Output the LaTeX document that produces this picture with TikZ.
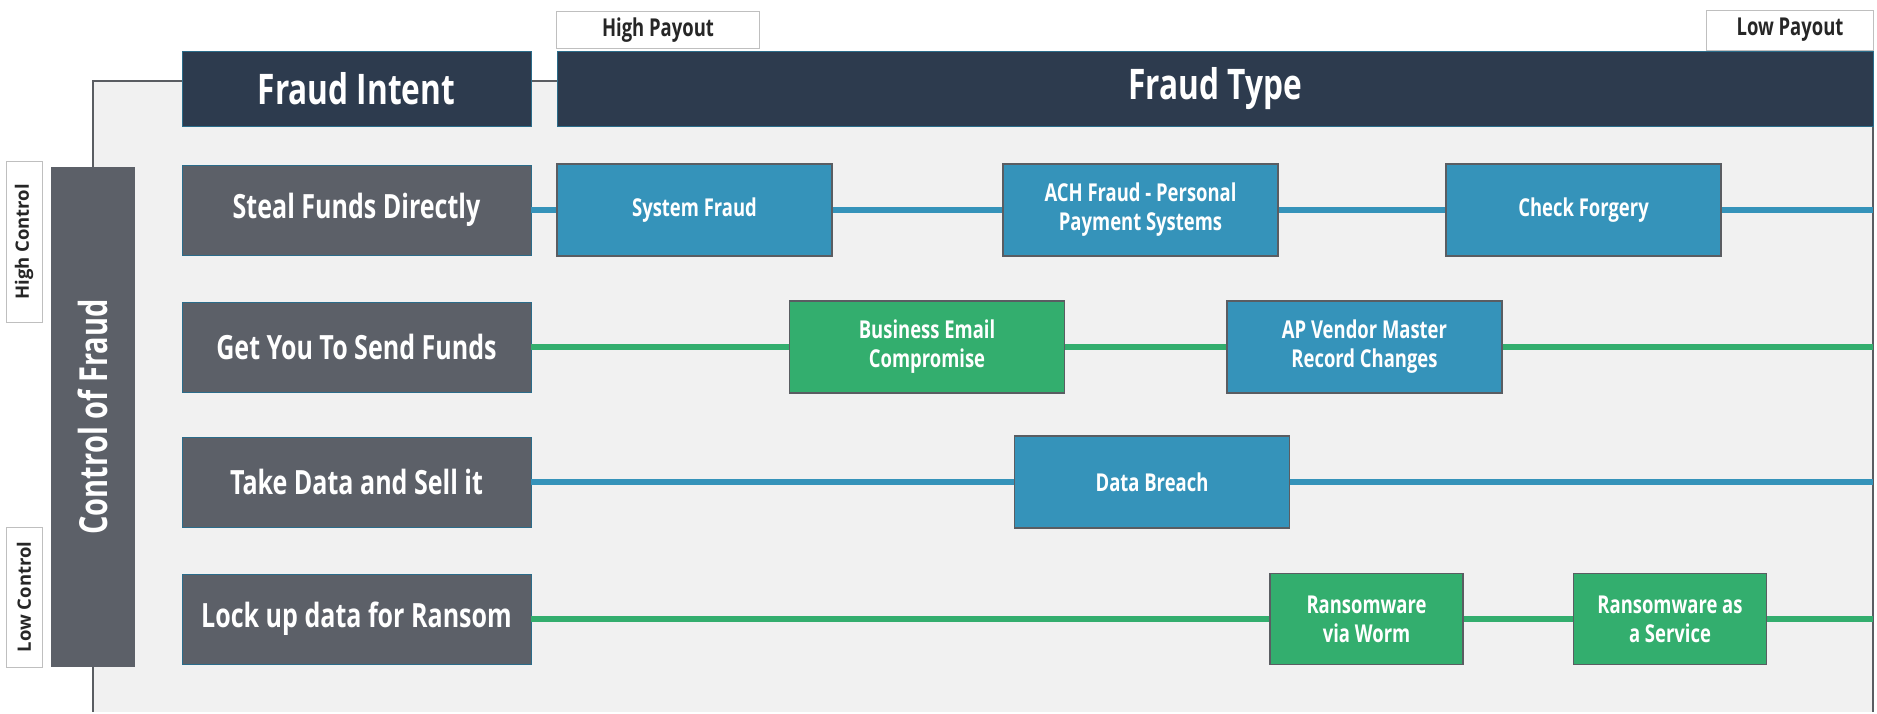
\documentclass[tikz,border=0pt]{standalone}
\usepackage{fontspec}
\setmainfont{Open Sans}[FakeStretch=0.75]
\newfontfamily\plainfont{Open Sans}
\usetikzlibrary{positioning}

\definecolor{navy}{HTML}{2D3B4E}
\definecolor{slate}{HTML}{5C6068}
\definecolor{fraudblue}{HTML}{3593BA}
\definecolor{fraudgreen}{HTML}{33AE6E}
\definecolor{panelgray}{HTML}{F1F1F1}
\definecolor{edgeteal}{HTML}{2B6C8A}
\definecolor{edgegray}{HTML}{5A5D62}

\begin{document}
\begin{tikzpicture}[
    x=0.2mm, y=-0.2mm,
    header/.style={rectangle, minimum height=15mm, draw=edgeteal, fill=navy, text=white, font=\bfseries\fontsize{24}{28}\selectfont},
    intent/.style={rectangle, minimum width=69.8mm, minimum height=18mm, draw=edgeteal, fill=slate, text=white, font=\bfseries\fontsize{19}{22}\selectfont},
    fraud/.style={rectangle, minimum width=55mm, minimum height=18.4mm, draw=edgegray, line width=1pt, fill=#1, text=white, align=center, font=\bfseries\fontsize{14}{16.5}\selectfont},
    tag/.style={rectangle, draw=black!25, fill=white, text=black!85, font=\bfseries\fontsize{14}{16}\selectfont},
    sidetag/.style={rectangle, rotate=90, minimum height=7.2mm, draw=black!25, fill=white, text=black!85, font=\plainfont\bfseries\fontsize{10.5}{12}\selectfont},
    rowline/.style={line width=3pt, draw=#1}
]

% background panel
\fill[panelgray] (93,81) rectangle (1873,712);
\draw[edgegray, line width=1.2pt] (93,712) -- (93,81) -- (1873,81) -- (1873,712);

% headers
\node (intenthead) [header, minimum width=69.8mm] at (356.5,88.5) {Fraud Intent};
\node (typehead) [header, minimum width=263.2mm] at (1215,88.5) {Fraud Type};
\node (highpay) [tag, minimum width=40.6mm, minimum height=7.2mm] at (658,30) {High Payout};
\node (lowpay) [tag, minimum width=33.4mm, minimum height=8mm] at (1790,30) {Low Payout};

% control axis
\node (control) [rectangle, rotate=90, minimum width=99.8mm, minimum height=16.8mm, fill=slate, text=white, font=\bfseries\fontsize{22}{26}\selectfont] at (93,417) {Control of Fraud};
\node (highctl) [sidetag, minimum width=32.2mm] at (24,242) {High Control};
\node (lowctl) [sidetag, minimum width=28mm] at (24,597) {Low Control};

% fraud intents
\node (steal) [intent] at (356.5,210) {Steal Funds Directly};
\node (send) [intent] at (356.5,347) {Get You To Send Funds};
\node (sell) [intent] at (356.5,482) {Take Data and Sell it};
\node (ransom) [intent] at (356.5,619) {Lock up data for Ransom};

% fraud types
\node (sysfraud) [fraud=fraudblue] at (694.5,210) {System Fraud};
\node (achfraud) [fraud=fraudblue] at (1140.5,210) {ACH Fraud - Personal\\Payment Systems};
\node (checkforg) [fraud=fraudblue] at (1583.5,210) {Check Forgery};
\node (bec) [fraud=fraudgreen] at (927,347) {Business Email\\Compromise};
\node (apvendor) [fraud=fraudblue] at (1364.5,347) {AP Vendor Master\\Record Changes};
\node (breach) [fraud=fraudblue] at (1152,482) {Data Breach};
\node (worm) [fraud=fraudgreen, minimum width=38.6mm, minimum height=18.2mm] at (1366.5,619) {Ransomware\\via Worm};
\node (raas) [fraud=fraudgreen, minimum width=38.6mm, minimum height=18.2mm] at (1670,619) {Ransomware as\\a Service};

\coordinate (endA) at (1873,210);
\coordinate (endB) at (1873,347);
\coordinate (endC) at (1873,482);
\coordinate (endD) at (1873,619);

% row lines
\draw [rowline=fraudblue] (steal) -- (sysfraud) -- (achfraud) -- (checkforg) -- (endA);
\draw [rowline=fraudgreen] (send) -- (bec) -- (apvendor) -- (endB);
\draw [rowline=fraudblue] (sell) -- (breach) -- (endC);
\draw [rowline=fraudgreen] (ransom) -- (worm) -- (raas) -- (endD);

\useasboundingbox (0,0) rectangle (1877,712);
\end{tikzpicture}
\end{document}
